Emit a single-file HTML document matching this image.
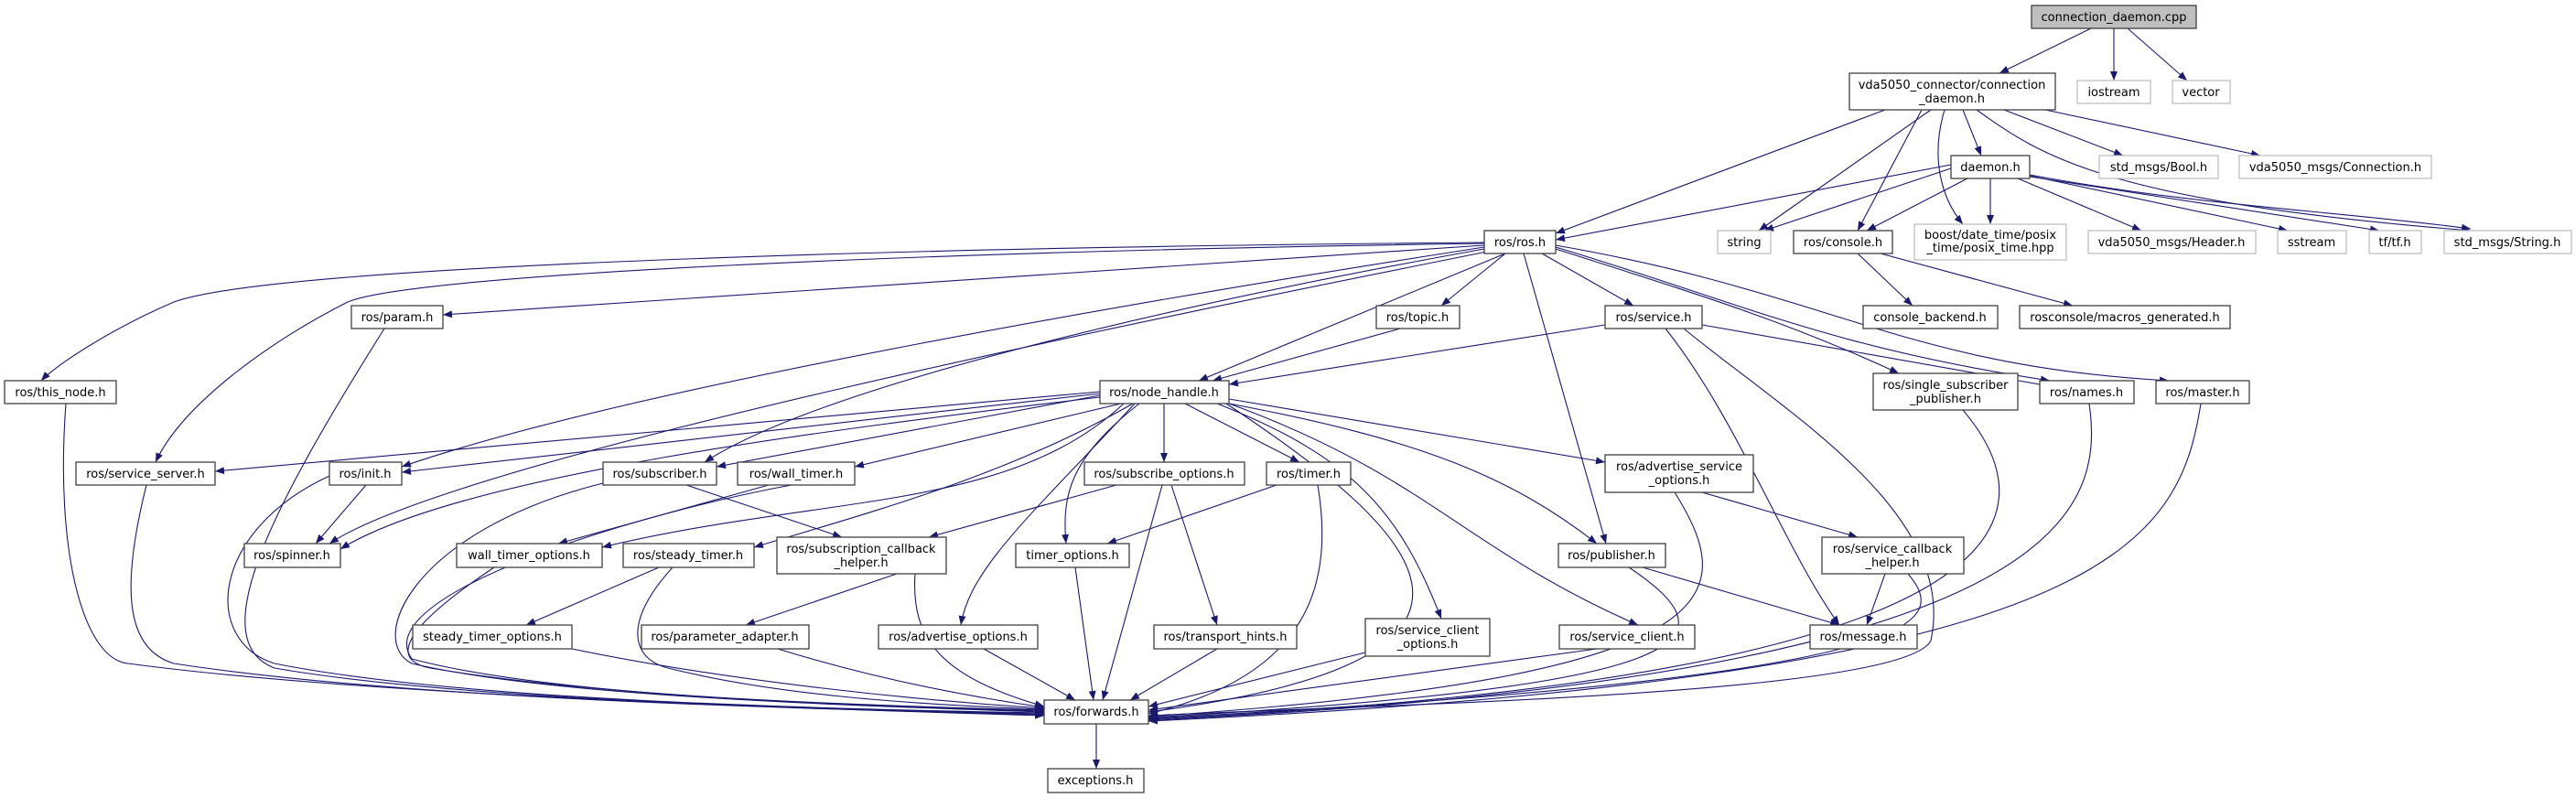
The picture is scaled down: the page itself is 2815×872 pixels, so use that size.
<!DOCTYPE html>
<html><head><meta charset="utf-8"><style>
html,body{margin:0;padding:0;background:#fff;}
svg{display:block;}
text{font-family:"DejaVu Sans","Liberation Sans",sans-serif;font-size:13px;fill:#000;text-anchor:middle;}
.n{fill:#fff;stroke:#404040;stroke-width:1.3;}
.g{fill:#fff;stroke:#bfbfbf;stroke-width:1.3;}
.e{fill:none;stroke:#191970;stroke-width:1.1;marker-end:url(#a);}
</style></head><body>
<svg width="2815" height="872" viewBox="0 0 2815 872" xmlns="http://www.w3.org/2000/svg">
<defs><marker id="a" markerUnits="userSpaceOnUse" markerWidth="11" markerHeight="8" refX="10" refY="4" orient="auto"><path d="M0,0 L10,4 L0,8 z" fill="#191970"/></marker></defs>
<g>
<path class="e" d="M2285,31 L2185,80"/>
<path class="e" d="M2310,31 L2310,88"/>
<path class="e" d="M2325,31 L2390,88"/>
<path class="e" d="M2060,120 L1700,255"/>
<path class="e" d="M2110,120 L1922,252"/>
<path class="e" d="M2100,120 L2030,252"/>
<path class="e" d="M2145,120 L2165,170"/>
<path class="e" d="M2125,120 C2110,170 2120,215 2145,245"/>
<path class="e" d="M2190,120 L2320,170"/>
<path class="e" d="M2235,120 L2470,170"/>
<path class="e" d="M2160,120 C2230,170 2300,220 2700,252"/>
<path class="e" d="M2132,180 L1700,262"/>
<path class="e" d="M2132,184 L1928,252"/>
<path class="e" d="M2150,195 L2040,252"/>
<path class="e" d="M2175,195 L2175,245"/>
<path class="e" d="M2205,195 L2340,252"/>
<path class="e" d="M2218,192 L2500,252"/>
<path class="e" d="M2218,193 L2600,252"/>
<path class="e" d="M2218,191 C2400,225 2550,230 2700,250"/>
<path class="e" d="M2030,277 L2090,334"/>
<path class="e" d="M2055,277 L2265,334"/>
<path class="e" d="M1622,265 C1000,270 300,290 190,330 C120,360 60,400 45,416"/>
<path class="e" d="M1622,266 C1000,275 450,300 380,330 C300,370 200,440 170,505"/>
<path class="e" d="M1622,268 L484,344"/>
<path class="e" d="M1622,270 C1300,320 700,420 439,510"/>
<path class="e" d="M1622,272 C1300,330 900,420 770,505"/>
<path class="e" d="M1625,275 C1300,340 500,500 360,594"/>
<path class="e" d="M1645,277 L1310,416"/>
<path class="e" d="M1645,277 L1575,334"/>
<path class="e" d="M1685,277 L1785,334"/>
<path class="e" d="M1665,277 L1755,594"/>
<path class="e" d="M1700,272 C1850,320 1950,350 2075,408"/>
<path class="e" d="M1700,270 C1900,330 2000,380 2240,416"/>
<path class="e" d="M1700,268 C2000,320 2080,400 2370,416"/>
<path class="e" d="M1530,359 L1325,416"/>
<path class="e" d="M1754,355 L1343,420"/>
<path class="e" d="M1860,355 L2240,422"/>
<path class="e" d="M1820,359 C1900,460 1950,600 2010,683"/>
<path class="e" d="M1840,359 C1950,450 2140,560 2110,700 C2080,760 1500,770 1255,782"/>
<path class="e" d="M1202,428 L235,515"/>
<path class="e" d="M1202,430 L439,516"/>
<path class="e" d="M1202,432 L783,510"/>
<path class="e" d="M1202,434 C900,470 500,520 372,600"/>
<path class="e" d="M1225,441 L934,510"/>
<path class="e" d="M1228,441 C1100,560 900,540 658,598"/>
<path class="e" d="M1238,441 C1100,520 950,560 824,598"/>
<path class="e" d="M1272,441 L1272,505"/>
<path class="e" d="M1295,441 L1420,505"/>
<path class="e" d="M1343,436 L1754,505"/>
<path class="e" d="M1343,441 C1550,480 1650,520 1745,594"/>
<path class="e" d="M1245,441 C1170,500 1160,540 1165,594"/>
<path class="e" d="M1240,441 C1130,560 1060,620 1050,683"/>
<path class="e" d="M1330,441 C1480,500 1530,560 1575,676"/>
<path class="e" d="M1343,441 C1560,520 1600,600 1790,683"/>
<path class="e" d="M1340,441 C1550,580 1700,720 1255,778"/>
<path class="e" d="M750,530 L920,587"/>
<path class="e" d="M840,530 L610,594"/>
<path class="e" d="M400,530 L345,594"/>
<path class="e" d="M1220,530 L1015,587"/>
<path class="e" d="M1270,530 L1205,765"/>
<path class="e" d="M1280,530 L1330,683"/>
<path class="e" d="M1395,530 L1210,594"/>
<path class="e" d="M1175,620 L1195,765"/>
<path class="e" d="M1860,538 L2030,587"/>
<path class="e" d="M1795,620 L2010,683"/>
<path class="e" d="M2060,627 L2040,683"/>
<path class="e" d="M720,620 L575,683"/>
<path class="e" d="M980,627 L815,683"/>
<path class="e" d="M1075,709 L1175,765"/>
<path class="e" d="M1330,709 L1235,765"/>
<path class="e" d="M1492,713 L1255,772"/>
<path class="e" d="M1745,709 L1255,776"/>
<path class="e" d="M1198,791 L1198,840"/>
<path class="e" d="M1440,530 C1460,650 1420,740 1255,780"/>
<path class="e" d="M1830,538 C1900,650 1900,740 1255,783"/>
<path class="e" d="M1780,620 C1900,700 1860,750 1255,784"/>
<path class="e" d="M2085,627 C2130,680 2120,740 1255,785"/>
<path class="e" d="M2145,448 C2240,560 2240,740 1255,786"/>
<path class="e" d="M2283,441 C2300,560 2260,740 1255,787"/>
<path class="e" d="M2405,441 C2380,600 2300,740 1255,788"/>
<path class="e" d="M72,441 C60,600 90,720 140,725 C400,760 900,775 1141,782"/>
<path class="e" d="M160,530 C130,650 140,710 190,725 C450,765 900,775 1141,781"/>
<path class="e" d="M420,359 C300,550 220,700 300,730 C500,765 900,775 1141,780"/>
<path class="e" d="M360,520 C230,580 220,700 300,725 C500,765 900,775 1141,779"/>
<path class="e" d="M659,528 C450,580 400,700 450,725 C600,760 900,770 1141,778"/>
<path class="e" d="M865,530 C700,560 400,650 450,720 C600,760 900,770 1141,777"/>
<path class="e" d="M540,620 C450,680 420,720 470,730 C650,760 900,770 1141,776"/>
<path class="e" d="M735,620 C680,680 690,720 730,730 C850,760 1000,770 1141,775"/>
<path class="e" d="M625,709 C800,745 1000,765 1141,774"/>
<path class="e" d="M850,709 C950,740 1050,760 1141,773"/>
<path class="e" d="M1000,627 C995,700 1030,740 1141,772"/>
</g>
<g>
<rect x="2220" y="6" width="180" height="25" fill="#bfbfbf" stroke="#404040" stroke-width="1.3"/><text x="2310" y="23">connection_daemon.cpp</text>
<rect class="n" x="2021" y="80" width="225" height="40"/><text x="2133" y="97">vda5050_connector/connection</text><text x="2133" y="112">_daemon.h</text>
<rect class="g" x="2270" y="88" width="80" height="25"/><text x="2310" y="105">iostream</text>
<rect class="g" x="2374" y="88" width="63" height="25"/><text x="2405" y="105">vector</text>
<rect class="n" x="2132" y="170" width="86" height="25"/><text x="2175" y="187">daemon.h</text>
<rect class="g" x="2294" y="170" width="130" height="25"/><text x="2359" y="187">std_msgs/Bool.h</text>
<rect class="g" x="2447" y="170" width="210" height="25"/><text x="2552" y="187">vda5050_msgs/Connection.h</text>
<rect class="n" x="1622" y="252" width="78" height="25"/><text x="1661" y="269">ros/ros.h</text>
<rect class="g" x="1877" y="252" width="58" height="25"/><text x="1906" y="269">string</text>
<rect class="n" x="1960" y="252" width="108" height="25"/><text x="2014" y="269">ros/console.h</text>
<rect class="g" x="2092" y="245" width="166" height="39"/><text x="2175" y="261">boost/date_time/posix</text><text x="2175" y="275">_time/posix_time.hpp</text>
<rect class="g" x="2282" y="252" width="183" height="25"/><text x="2373" y="269">vda5050_msgs/Header.h</text>
<rect class="g" x="2489" y="252" width="75" height="25"/><text x="2526" y="269">sstream</text>
<rect class="g" x="2589" y="252" width="57" height="25"/><text x="2617" y="269">tf/tf.h</text>
<rect class="g" x="2671" y="252" width="139" height="25"/><text x="2740" y="269">std_msgs/String.h</text>
<rect class="n" x="384" y="334" width="100" height="25"/><text x="434" y="351">ros/param.h</text>
<rect class="n" x="1504" y="334" width="91" height="25"/><text x="1549" y="351">ros/topic.h</text>
<rect class="n" x="1754" y="334" width="106" height="25"/><text x="1807" y="351">ros/service.h</text>
<rect class="n" x="2036" y="334" width="147" height="25"/><text x="2109" y="351">console_backend.h</text>
<rect class="n" x="2207" y="334" width="230" height="25"/><text x="2322" y="351">rosconsole/macros_generated.h</text>
<rect class="n" x="5" y="416" width="122" height="25"/><text x="66" y="433">ros/this_node.h</text>
<rect class="n" x="1202" y="416" width="141" height="25"/><text x="1272" y="433">ros/node_handle.h</text>
<rect class="n" x="2047" y="408" width="158" height="40"/><text x="2126" y="425">ros/single_subscriber</text><text x="2126" y="440">_publisher.h</text>
<rect class="n" x="2229" y="416" width="103" height="25"/><text x="2280" y="433">ros/names.h</text>
<rect class="n" x="2356" y="416" width="102" height="25"/><text x="2407" y="433">ros/master.h</text>
<rect class="n" x="83" y="505" width="152" height="25"/><text x="159" y="522">ros/service_server.h</text>
<rect class="n" x="360" y="505" width="79" height="25"/><text x="399" y="522">ros/init.h</text>
<rect class="n" x="659" y="505" width="124" height="25"/><text x="721" y="522">ros/subscriber.h</text>
<rect class="n" x="806" y="505" width="128" height="25"/><text x="870" y="522">ros/wall_timer.h</text>
<rect class="n" x="1185" y="505" width="175" height="25"/><text x="1272" y="522">ros/subscribe_options.h</text>
<rect class="n" x="1384" y="505" width="92" height="25"/><text x="1430" y="522">ros/timer.h</text>
<rect class="n" x="1754" y="497" width="162" height="41"/><text x="1835" y="514">ros/advertise_service</text><text x="1835" y="529">_options.h</text>
<rect class="n" x="267" y="594" width="105" height="26"/><text x="319" y="611">ros/spinner.h</text>
<rect class="n" x="499" y="594" width="159" height="26"/><text x="578" y="611">wall_timer_options.h</text>
<rect class="n" x="681" y="594" width="143" height="26"/><text x="752" y="611">ros/steady_timer.h</text>
<rect class="n" x="849" y="587" width="185" height="40"/><text x="941" y="604">ros/subscription_callback</text><text x="941" y="619">_helper.h</text>
<rect class="n" x="1110" y="594" width="124" height="26"/><text x="1172" y="611">timer_options.h</text>
<rect class="n" x="1703" y="594" width="117" height="26"/><text x="1761" y="611">ros/publisher.h</text>
<rect class="n" x="1991" y="587" width="155" height="40"/><text x="2068" y="604">ros/service_callback</text><text x="2068" y="619">_helper.h</text>
<rect class="n" x="451" y="683" width="174" height="26"/><text x="538" y="700">steady_timer_options.h</text>
<rect class="n" x="701" y="683" width="183" height="26"/><text x="792" y="700">ros/parameter_adapter.h</text>
<rect class="n" x="960" y="683" width="174" height="26"/><text x="1047" y="700">ros/advertise_options.h</text>
<rect class="n" x="1261" y="683" width="156" height="26"/><text x="1339" y="700">ros/transport_hints.h</text>
<rect class="n" x="1492" y="676" width="136" height="41"/><text x="1560" y="693">ros/service_client</text><text x="1560" y="708">_options.h</text>
<rect class="n" x="1704" y="683" width="148" height="26"/><text x="1778" y="700">ros/service_client.h</text>
<rect class="n" x="1978" y="683" width="117" height="26"/><text x="2036" y="700">ros/message.h</text>
<rect class="n" x="1141" y="765" width="114" height="26"/><text x="1198" y="782">ros/forwards.h</text>
<rect class="n" x="1145" y="840" width="105" height="26"/><text x="1197" y="857">exceptions.h</text>
</g>
</svg>
</body></html>
